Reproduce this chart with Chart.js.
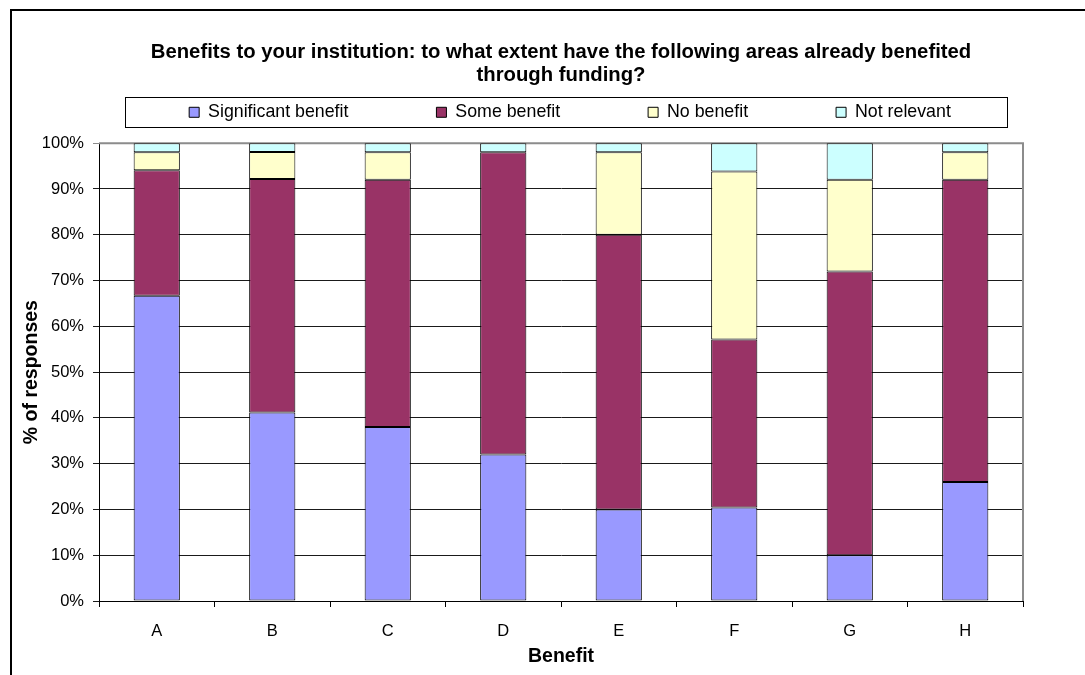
<!DOCTYPE html>
<html>
<head>
<meta charset="utf-8">
<script src="https://cdn.jsdelivr.net/npm/chart.js@4/dist/chart.umd.min.js"></script>
<style>
  html, body { margin: 0; padding: 0; background: #fff; overflow: hidden; width: 1085px; height: 675px; }
  #frame { position: absolute; left: 10px; top: 9px; width: 1200px; height: 700px;
           border-left: 2px solid #000; border-top: 2px solid #000; }
  #chart { position: absolute; left: 0; top: 0; }
</style>
</head>
<body>
<div id="frame"><canvas id="chart" width="1116" height="664"></canvas></div>
<script>
// Benefit areas on the x axis
const categories = ['A', 'B', 'C', 'D', 'E', 'F', 'G', 'H'];

// Share of responses (%) per answer, one entry per benefit area
const significantBenefit = [66.7, 41.2, 38.0, 32.0, 20.0, 20.4, 10.0, 26.0];
const someBenefit        = [27.4, 51.0, 54.0, 66.0, 60.0, 36.7, 62.0, 66.0];
const noBenefit          = [3.9, 5.9, 6.0, 0.0, 18.0, 36.7, 20.0, 6.0];
const notRelevant        = [2.0, 1.9, 2.0, 2.0, 2.0, 6.2, 8.0, 2.0];

// Percentage ticks on the value axis
const yTicks = [0, 10, 20, 30, 40, 50, 60, 70, 80, 90, 100];

const seriesNames = ['Significant benefit', 'Some benefit', 'No benefit', 'Not relevant'];
const seriesColors = ['#9999FF', '#993366', '#FFFFCC', '#CCFFFF'];
const seriesValues = [significantBenefit, someBenefit, noBenefit, notRelevant];

const FONT = '"Liberation Sans", Arial, Helvetica, sans-serif';

// Gray plot-area outline plus a frame around the legend row
const framePlugin = {
  id: 'frames',
  beforeDatasetsDraw(chart) {
    const { ctx, chartArea: a } = chart;
    ctx.save();
    ctx.strokeStyle = '#8c8c8c';
    ctx.lineWidth = 2;
    ctx.beginPath();
    ctx.moveTo(a.left, a.top);
    ctx.lineTo(a.right, a.top);
    ctx.lineTo(a.right, a.bottom);
    ctx.stroke();
    ctx.restore();
  },
  afterDraw(chart) {
    const lg = chart.legend;
    if (!lg || !lg.legendHitBoxes || !lg.legendHitBoxes.length) return;
    const hb = lg.legendHitBoxes;
    const first = hb[0], last = hb[hb.length - 1];
    const cy = first.top + first.height / 2;
    const left = Math.round(first.left - 64) + 0.5;
    const right = Math.round(last.left + last.width + 56) + 0.5;
    const top = Math.round(cy - 15) + 0.5;
    const bottom = Math.round(cy + 15) + 0.5;
    const ctx = chart.ctx;
    ctx.save();
    ctx.strokeStyle = '#000';
    ctx.lineWidth = 1;
    ctx.strokeRect(left, top, right - left, bottom - top);
    ctx.restore();
  }
};

const ctx = document.getElementById('chart').getContext('2d');
new Chart(ctx, {
  type: 'bar',
  data: {
    labels: categories,
    datasets: seriesNames.map((name, i) => ({
      label: name,
      data: seriesValues[i],
      backgroundColor: seriesColors[i],
      borderColor: '#000',
      borderWidth: 1,
      borderSkipped: false,
      barPercentage: 0.4,
      categoryPercentage: 1.0,
      xAxisID: 'x',
      yAxisID: 'y'
    }))
  },
  options: {
    responsive: false,
    animation: false,
    devicePixelRatio: 1,
    layout: { padding: { left: 0, right: 0, top: 0, bottom: 0 } },
    plugins: {
      tooltip: { enabled: false },
      title: {
        display: true,
        fullSize: false,
        text: ['Benefits to your institution: to what extent have the following areas already benefited',
               'through funding?'],
        color: '#000',
        font: { family: FONT, size: 20.3, weight: 'bold', lineHeight: 1.15 },
        padding: { top: 29.3, bottom: -71.6 }
      },
      legend: {
        display: true,
        position: 'top',
        fullSize: true,
        labels: {
          color: '#000',
          font: { family: FONT, size: 17.8 },
          boxWidth: 10,
          boxHeight: 10,
          padding: 88,
          generateLabels(chart) {
            return chart.data.datasets.map((ds, i) => ({
              text: ds.label,
              fillStyle: ds.backgroundColor,
              strokeStyle: '#000',
              lineWidth: 1,
              hidden: false,
              datasetIndex: i,
              fontColor: '#000'
            }));
          }
        }
      }
    },
    scales: {
      x: {
        stacked: true,
        grid: { display: true, drawOnChartArea: false, drawTicks: true, tickLength: 6, offset: true, color: '#000', lineWidth: 1 },
        border: { display: true, color: '#000', width: 1 },
        ticks: { color: '#000', font: { family: FONT, size: 16.5 }, padding: 15, maxRotation: 0 },
        title: { display: true, text: 'Benefit', color: '#000', font: { family: FONT, size: 19.5, weight: 'bold' }, padding: { top: 0, bottom: 7 } },
        afterFit(scale) { scale.height = 74; }
      },
      // empty band between the legend and the plot
      xTop: {
        type: 'category',
        position: 'top',
        display: true,
        grid: { display: false, drawTicks: false },
        border: { display: false },
        ticks: { display: false },
        afterFit(scale) { scale.height = 12; }
      },
      y: {
        stacked: true,
        min: 0,
        max: 100,
        afterBuildTicks(scale) { scale.ticks = yTicks.map(v => ({ value: v })); },
        grid: {
          drawTicks: true, tickLength: 6, lineWidth: 1,
          color: (c) => (c.tick && c.tick.value === 100 ? '#8c8c8c' : '#1a1a1a')
        },
        border: { display: true, color: '#000', width: 1 },
        ticks: { color: '#000', font: { family: FONT, size: 16.5 }, padding: 9, callback: (v) => v + '%' },
        title: { display: true, text: '% of responses', color: '#000', font: { family: FONT, size: 19.5, weight: 'bold' }, padding: { top: 8.3, bottom: 0 } },
        afterFit(scale) { scale.width = 87; }
      },
      yRight: {
        position: 'right',
        display: true,
        min: 0,
        max: 100,
        grid: { display: false, drawTicks: false },
        border: { display: false },
        ticks: { display: false },
        afterFit(scale) { scale.width = 105; }
      }
    }
  },
  plugins: [framePlugin]
});
</script>
</body>
</html>
